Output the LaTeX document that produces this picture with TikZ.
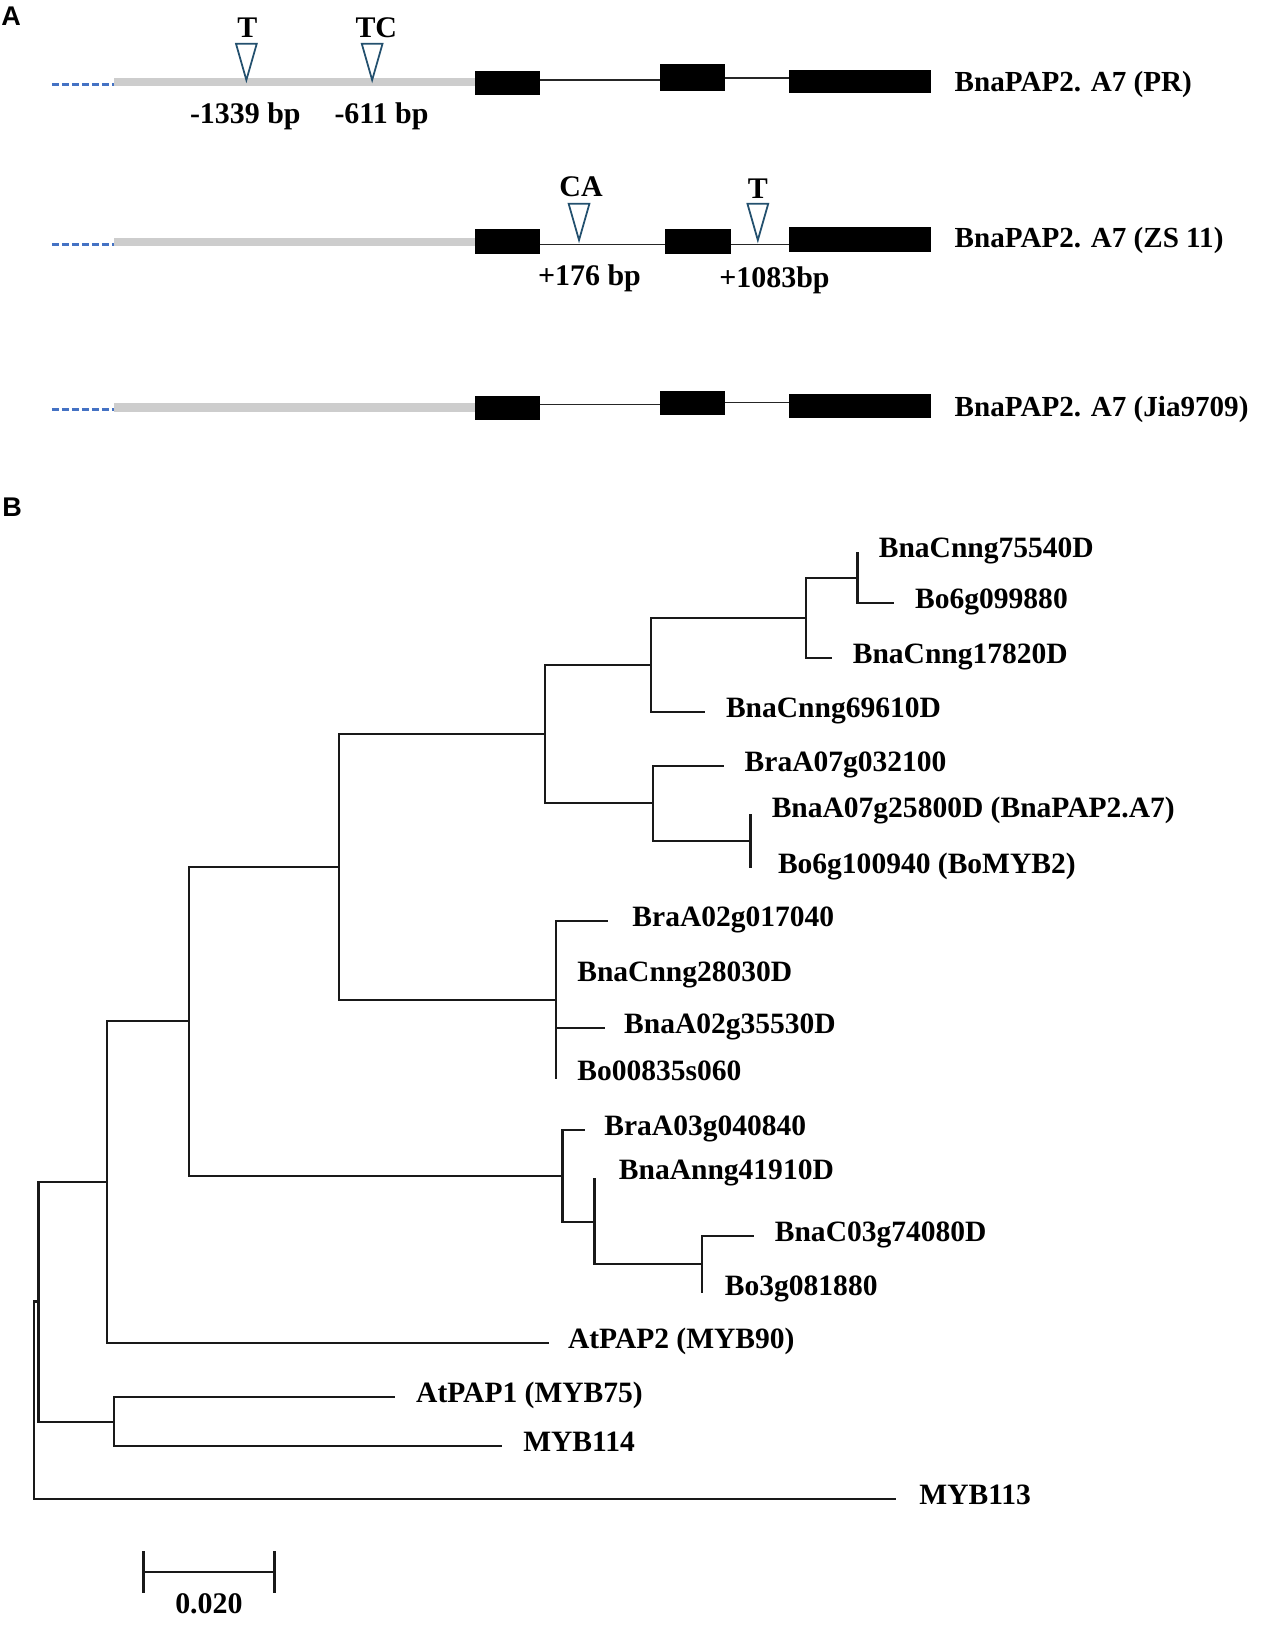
\documentclass[tikz,border=0pt]{standalone}
\usepackage{fontspec}
\setmainfont{Liberation Serif}
\newfontfamily\panelfont{Liberation Sans}
\definecolor{promgray}{RGB}{205,205,205}
\definecolor{dashblue}{RGB}{68,114,196}
\definecolor{tricol}{RGB}{35,80,110}
\begin{document}
\begin{tikzpicture}[x=0.5pt,y=-0.5pt,
  lbl/.style={font=\fontsize{14.2}{17}\selectfont\bfseries, inner sep=0pt, anchor=base west},
  glbl/.style={font=\fontsize{14}{17}\selectfont\bfseries, inner sep=0pt, anchor=base west},
  mlbl/.style={font=\fontsize{14.4}{17}\selectfont\bfseries, inner sep=0pt, anchor=base},
  plbl/.style={font=\panelfont\fontsize{13}{15}\selectfont\bfseries, inner sep=0pt, anchor=base west},
  exon/.style={fill=black},
  intron/.style={line width=0.75pt, draw=black!85},
  promoter/.style={line width=3.9pt, draw=promgray},
  upstream/.style={line width=1.6pt, draw=dashblue, dash pattern=on 3.2pt off 1.6pt},
  tri/.style={draw=tricol, line width=0.85pt, fill=white, line join=miter},
  br/.style={line width=1.1pt, draw=black!90, line cap=butt}
]
\useasboundingbox (0,0) rectangle (1215,1568);

% ---------------- Panel A ----------------
\node[plbl] (pA) at (1,25) {A};

% Row 1 (PR)
\draw[upstream] (50,81) -- (110,81);
\draw[promoter] (110,79) -- (457,79);
\fill[exon] (457,68) rectangle (519,91);
\draw[intron] (519,77) -- (635,77);
\fill[exon] (635,62) rectangle (697,88);
\draw[intron] (697,75) -- (759,75);
\fill[exon] (759,67) rectangle (896,89);
\node[glbl] (g1) at (918,88) {BnaPAP2. A7 (PR)};
\draw[tri] (227,42) -- (247,42) -- (237,77) -- cycle;
\draw[tri] (348,42) -- (368,42) -- (358,77) -- cycle;
\node[mlbl] (t1) at (238,36) {T};
\node[mlbl] (t2) at (362,36) {TC};
\node[mlbl] (p1) at (236,119) {-1339 bp};
\node[mlbl] (p2) at (367,119) {-611 bp};

% Row 2 (ZS 11)
\draw[upstream] (50,235) -- (110,235);
\draw[promoter] (110,233) -- (457,233);
\fill[exon] (457,220) rectangle (519,244);
\draw[intron] (519,235) -- (640,235);
\fill[exon] (640,220) rectangle (703,244);
\draw[intron] (703,235) -- (759,235);
\fill[exon] (759,218) rectangle (896,242);
\node[glbl] (g2) at (918,238) {BnaPAP2. A7 (ZS 11)};
\draw[tri] (547,196) -- (567,196) -- (557,231) -- cycle;
\draw[tri] (719,196) -- (739,196) -- (729,231) -- cycle;
\node[mlbl] (t3) at (559,189) {CA};
\node[mlbl] (t4) at (729,191) {T};
\node[mlbl] (p3) at (567,275) {+176 bp};
\node[mlbl] (p4) at (745,277) {+1083bp};

% Row 3 (Jia9709)
\draw[upstream] (50,394) -- (110,394);
\draw[promoter] (110,392) -- (457,392);
\fill[exon] (457,381) rectangle (519,404);
\draw[intron] (519,389) -- (635,389);
\fill[exon] (635,376) rectangle (697,399);
\draw[intron] (697,387) -- (759,387);
\fill[exon] (759,379) rectangle (896,402);
\node[glbl] (g3) at (918,401) {BnaPAP2. A7 (Jia9709)};

% ---------------- Panel B ----------------
\node[plbl] (pB) at (2,497) {B};

% internal nodes
\coordinate (Na) at (825,556);
\coordinate (Nb) at (775,594.5);
\coordinate (Nc) at (626,640);
\coordinate (Nd) at (722,809);
\coordinate (Ne) at (628,772.5);
\coordinate (Nf) at (524,706);
\coordinate (Ng) at (535,962);
\coordinate (Nh) at (326,834);
\coordinate (Ni) at (675,1216);
\coordinate (Nj) at (572,1175.5);
\coordinate (Nk) at (541,1131);
\coordinate (Nl) at (182,982);
\coordinate (Nm) at (103,1137);
\coordinate (Nn) at (110,1368);
\coordinate (No) at (37,1252);
\coordinate (Root) at (33,1347);

% leaf tips
\coordinate (L1) at (825,531);
\coordinate (L2) at (860,580);
\coordinate (L3) at (800,633);
\coordinate (L4) at (678,685);
\coordinate (L5) at (696,737);
\coordinate (L6) at (722,783);
\coordinate (L7) at (722,835);
\coordinate (L8) at (585,886);
\coordinate (L9) at (535,940);
\coordinate (L10) at (582,989);
\coordinate (L11) at (535,1038);
\coordinate (L12) at (563,1087);
\coordinate (L13) at (572,1133);
\coordinate (L14) at (725,1189);
\coordinate (L15) at (675,1244);
\coordinate (L16) at (528,1292);
\coordinate (L17) at (380,1344);
\coordinate (L18) at (483,1391);
\coordinate (L19) at (862,1442);

% branches
\draw[br] (Na) |- (L1);  \draw[br] (Na) |- (L2);
\draw[br] (Nb) |- (Na);  \draw[br] (Nb) |- (L3);
\draw[br] (Nc) |- (Nb);  \draw[br] (Nc) |- (L4);
\draw[br] (Nd) |- (L6);  \draw[br] (Nd) |- (L7);
\draw[br] (Ne) |- (L5);  \draw[br] (Ne) |- (Nd);
\draw[br] (Nf) |- (Nc);  \draw[br] (Nf) |- (Ne);
\draw[br] (Ng) |- (L8);  \draw[br] (Ng) |- (L9);
\draw[br] (Ng) |- (L10); \draw[br] (Ng) |- (L11);
\draw[br] (Nh) |- (Nf);  \draw[br] (Nh) |- (Ng);
\draw[br] (Ni) |- (L14); \draw[br] (Ni) |- (L15);
\draw[br] (Nj) |- (L13); \draw[br] (Nj) |- (Ni);
\draw[br] (Nk) |- (L12); \draw[br] (Nk) |- (Nj);
\draw[br] (Nl) |- (Nh);  \draw[br] (Nl) |- (Nk);
\draw[br] (Nm) |- (Nl);  \draw[br] (Nm) |- (L16);
\draw[br] (Nn) |- (L17); \draw[br] (Nn) |- (L18);
\draw[br] (No) |- (Nm);  \draw[br] (No) |- (Nn);
\draw[br] (Root) |- (No); \draw[br] (Root) |- (L19);

% leaf labels
\node[lbl] (t_L1) at (845,536) {BnaCnng75540D};
\node[lbl] (t_L2) at (880,585) {Bo6g099880};
\node[lbl] (t_L3) at (820,638) {BnaCnng17820D};
\node[lbl] (t_L4) at (698,690) {BnaCnng69610D};
\node[lbl] (t_L5) at (716,742) {BraA07g032100};
\node[lbl] (t_L6) at (742,786) {BnaA07g25800D (BnaPAP2.A7)};
\node[lbl] (t_L7) at (748,840) {Bo6g100940 (BoMYB2)};
\node[lbl] (t_L8) at (608,891) {BraA02g017040};
\node[lbl] (t_L9) at (555,944) {BnaCnng28030D};
\node[lbl] (t_L10) at (600,994) {BnaA02g35530D};
\node[lbl] (t_L11) at (555,1039) {Bo00835s060};
\node[lbl] (t_L12) at (581,1092) {BraA03g040840};
\node[lbl] (t_L13) at (595,1135) {BnaAnng41910D};
\node[lbl] (t_L14) at (745,1194) {BnaC03g74080D};
\node[lbl] (t_L15) at (697,1246) {Bo3g081880};
\node[lbl] (t_L16) at (546,1297) {AtPAP2 (MYB90)};
\node[lbl] (t_L17) at (400,1349) {AtPAP1 (MYB75)};
\node[lbl] (t_L18) at (503,1396) {MYB114};
\node[lbl] (t_L19) at (884,1447) {MYB113};

% scale bar
\coordinate (s1) at (138,1512);
\coordinate (s2) at (264,1512);
\draw[br] (s1) -- (s2);
\draw[br] ([yshift=10]s1) -- ([yshift=-10]s1);
\draw[br] ([yshift=10]s2) -- ([yshift=-10]s2);
\node[mlbl] (sl) at (201,1552) {0.020};
\end{tikzpicture}
\end{document}
